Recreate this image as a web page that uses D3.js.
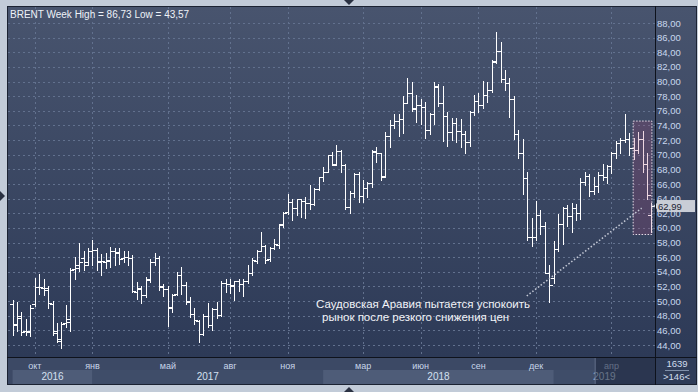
<!DOCTYPE html>
<html><head><meta charset="utf-8">
<script src="https://cdn.jsdelivr.net/npm/d3@7/dist/d3.min.js"></script>
<style>
html,body{margin:0;padding:0;background:#c2cbd8;overflow:hidden;}
svg{display:block;font-family:"Liberation Sans",Arial,sans-serif;}
</style></head><body>
<svg id="c" width="698" height="392"></svg>
<script>
// ---- DATA (weekly Brent bars, Aug 29 2016 .. Jun 3 2019) ----
const opens = [49.6,46.9,47.7,45.9,45.8,49.6,51.9,51.8,51.5,49.6,45.9,44.6,47.0,47.5,54.4,54.9,55.9,55.4,
56.9,57.0,55.4,55.3,55.5,56.8,56.6,55.9,56.0,55.9,51.3,51.6,50.8,53.0,55.3,55.9,51.9,51.7,49.2,51.0,53.6,52.2,
49.9,48.2,47.3,45.5,48.0,46.7,48.9,48.1,52.5,52.4,52.2,52.7,52.3,52.8,53.8,55.5,56.9,57.5,55.7,57.3,57.7,60.5,
62.2,63.5,62.7,63.9,63.7,63.4,63.3,65.3,66.9,67.7,69.9,68.7,70.5,68.6,62.8,64.8,67.3,64.4,65.5,66.2,70.4,70.3,
67.0,72.6,74.1,74.6,74.9,77.1,78.5,76.3,76.8,76.5,73.4,75.6,79.3,77.1,75.3,73.1,74.3,73.2,72.8,71.8,75.8,77.4,
76.8,78.1,78.9,82.8,84.2,80.4,79.8,77.6,72.8,70.2,66.8,58.8,58.7,61.7,60.3,53.8,53.2,57.1,60.5,62.7,61.6,62.7,
62.1,66.3,67.1,65.1,65.7,67.2,67.0,68.4,70.3,71.6,72.0,72.2,70.9,70.6,72.2,68.7,61.8];
const highs = [50.2,49.9,48.5,47.6,49.4,53.2,53.7,53.0,52.0,50.0,47.0,47.2,49.4,54.5,56.0,57.9,56.8,57.2,
58.4,57.3,56.5,56.6,57.4,57.2,57.2,56.9,56.8,56.3,52.6,52.0,53.3,55.7,56.6,56.2,52.4,52.0,51.0,54.0,54.7,52.6,
50.5,49.0,47.4,48.2,49.7,49.0,49.9,52.7,53.0,53.0,52.8,53.0,53.0,54.9,55.9,57.0,59.5,57.7,57.4,58.5,60.5,62.2,
64.7,64.0,64.0,64.0,64.2,65.8,65.5,67.0,68.3,70.0,70.4,71.3,70.6,68.7,65.0,67.5,67.6,66.5,66.3,70.6,71.0,70.3,
73.1,74.7,75.5,75.6,78.0,80.5,80.0,78.2,77.6,77.2,75.7,79.9,79.6,79.4,75.8,75.0,75.0,74.9,73.3,76.0,78.2,78.5,
80.1,79.9,83.0,86.73,85.4,81.6,80.5,78.0,73.4,72.1,67.6,61.3,63.7,62.5,60.8,55.0,58.2,61.9,62.9,63.1,63.4,63.3,
66.8,67.7,67.4,67.0,67.7,68.7,68.6,70.4,71.9,72.3,75.6,73.0,72.3,73.1,73.3,70.2,63.4];
const lows = [45.4,45.9,45.3,45.3,45.2,49.3,51.0,50.8,49.1,45.4,44.4,43.57,46.5,45.9,53.0,54.1,54.2,55.0,
54.9,54.3,53.6,54.5,54.7,54.9,55.1,55.4,55.0,51.2,50.3,49.8,50.5,52.6,55.0,51.5,50.7,46.6,48.5,50.8,51.0,49.6,
47.8,46.9,44.4,45.4,46.4,46.0,47.7,47.9,51.2,51.1,50.2,51.4,50.7,52.5,53.5,55.2,56.8,55.2,55.5,57.1,57.3,60.1,
61.9,61.1,61.8,61.5,61.3,62.6,63.1,65.2,66.4,67.6,68.6,68.6,67.6,62.6,62.1,64.2,63.6,63.6,64.2,65.6,69.0,66.6,
67.0,71.0,73.6,72.6,73.0,77.1,76.0,74.5,74.2,72.3,72.9,74.2,76.7,71.9,71.2,72.0,71.8,71.1,70.3,71.2,75.4,75.9,
76.4,77.2,78.6,82.6,79.9,78.9,75.1,72.2,69.6,64.6,58.4,57.5,58.4,59.1,53.8,49.93,52.5,56.8,57.8,60.2,59.4,61.1,
61.2,65.9,64.3,64.6,64.9,66.6,66.2,67.5,69.5,70.3,71.8,69.9,69.4,70.3,67.7,64.0,59.5];
const closes = [46.8,48.0,45.8,45.9,49.1,51.9,51.95,51.8,49.7,45.6,44.8,46.9,47.2,54.3,54.5,55.3,54.9,56.8,
57.0,55.5,55.5,55.6,56.8,56.7,55.8,56.0,55.9,51.4,51.8,50.8,52.9,55.3,55.9,52.0,51.7,49.1,50.8,53.6,52.2,50.0,
48.2,47.4,45.5,47.9,46.7,48.9,48.1,52.5,52.4,52.1,52.7,52.4,52.75,53.8,55.6,56.9,57.5,55.6,57.2,57.75,60.4,62.1,
63.5,62.7,63.9,63.7,63.4,63.2,65.25,66.9,67.6,69.9,68.6,70.5,68.6,62.8,64.8,67.3,64.4,65.5,66.2,70.45,70.3,67.1,
72.6,74.1,74.6,74.9,77.1,78.5,76.4,76.8,76.5,73.4,75.55,79.4,77.1,75.3,73.1,74.3,73.2,72.8,71.8,75.8,77.4,76.8,
78.1,78.8,82.7,84.2,80.4,79.8,77.6,72.8,70.2,66.8,58.8,58.7,61.7,60.3,53.8,52.2,57.1,60.5,62.7,61.6,62.75,62.1,
66.25,67.1,65.1,65.7,67.2,67.0,68.4,70.3,71.6,72.0,72.2,70.9,70.6,72.2,68.7,64.5,62.99];

const monthTickIdx    = [5,18,35,49,62,79,92,105,118,135];
const monthTickLabels = ["окт","янв","май","авг","ноя","мар","июн","сен","дек","апр"];
const yearStartIdx = [0,18,70,122];
const yearLabels   = ["2016","2017","2018","2019"];
const yTickValues  = d3.range(44, 89, 2);
const titleText = "BRENT Week High = 86,73 Low = 43,57";
const lastPrice = 62.99;
const highlight = {from:140, to:144, top:74.6, bottom:59.1};
const trendFrom = [115.9, 50.7], trendTo = [141.8, 62.7];
const noteLines = ["Саудовская Аравия пытается успокоить", "рынок после резкого снижения цен"];
const barsTotal = "1639", barsVisible = ">146<";
const axisShadeFrom = 131.2;

// ---- LAYOUT ----
const svg = d3.select("#c");
const P = {l:8, r:655, t:7, b:357};
const x = d3.scaleLinear().domain([0, 144]).range([12.6, 651.4]);
const y = d3.scaleLinear().domain([44, 88]).range([345, 23]);
const n = closes.length;

const defs = svg.append("defs");
const g1 = defs.append("linearGradient").attr("id","bg").attr("x1",0).attr("y1",0).attr("x2",0).attr("y2",1);
g1.append("stop").attr("offset","0%").attr("stop-color","#48546e");
g1.append("stop").attr("offset","100%").attr("stop-color","#2d3a57");
defs.append("clipPath").attr("id","clip").append("rect").attr("x",P.l).attr("y",P.t).attr("width",P.r-P.l).attr("height",P.b-P.t);

// outer frame triangles
svg.append("path").attr("d","M344,0 L354,0 L349,5 Z").attr("fill","#2a3142");
svg.append("path").attr("d","M344,392 L354,392 L349,387 Z").attr("fill","#2a3142");
svg.append("path").attr("d","M0,191 L0,201 L5,196 Z").attr("fill","#2a3142");

// panel
svg.append("rect").attr("x",7).attr("y",6).attr("width",690).attr("height",379).attr("fill","#1b2232");
svg.append("rect").attr("x",P.l).attr("y",P.t).attr("width",696-P.l).attr("height",P.b-P.t).attr("fill","url(#bg)");

// bottom axis rows
svg.append("rect").attr("x",P.l).attr("y",358).attr("width",P.r-P.l).attr("height",12).attr("fill","#3c4965");
svg.append("rect").attr("x",P.l).attr("y",370).attr("width",P.r-P.l).attr("height",14).attr("fill","#3c4965");
const bandEnds = yearStartIdx.slice(1).map(i => x(i)).concat([P.r]);
yearStartIdx.forEach((s,k) => {
  const x0 = x(s), x1 = bandEnds[k];
  svg.append("rect").attr("x",x0).attr("y",370).attr("width",x1-x0).attr("height",14)
     .attr("fill", k % 2 === 0 ? "#4e5c78" : "#3f4d69");
  svg.append("text").attr("x",(x0+x1)/2).attr("y",380).attr("text-anchor","middle")
     .attr("font-size","10px").attr("fill","#d4e0f0").text(yearLabels[k]);
});
monthTickIdx.forEach((m,k) => {
  svg.append("text").attr("x",x(m)).attr("y",368.5).attr("text-anchor","middle")
     .attr("font-size","9px").attr("fill","#c8d6ea").text(monthTickLabels[k]);
});
// axis shade at the right
svg.append("rect").attr("x",x(axisShadeFrom)).attr("y",358).attr("width",P.r-x(axisShadeFrom)).attr("height",26)
   .attr("fill","#1e2840").attr("opacity",0.6);
svg.append("line").attr("x1",x(axisShadeFrom)+0.5).attr("x2",x(axisShadeFrom)+0.5).attr("y1",358).attr("y2",384)
   .attr("stroke","#6a7894").attr("stroke-width",1);

// bottom-right box
svg.append("rect").attr("x",656).attr("y",358).attr("width",40).attr("height",26).attr("fill","#2f3c58");
svg.append("text").attr("x",677).attr("y",367).attr("text-anchor","middle").attr("font-size","9.5px").attr("fill","#d0dcee").text(barsTotal);
svg.append("line").attr("x1",665).attr("x2",689).attr("y1",370.5).attr("y2",370.5).attr("stroke","#8090aa");
svg.append("text").attr("x",676.5).attr("y",380).attr("text-anchor","middle").attr("font-size","9.5px").attr("fill","#d0dcee").text(barsVisible);

// gridlines
const grid = svg.append("g").attr("clip-path","url(#clip)");
grid.selectAll("line.h").data(yTickValues).enter().append("line")
  .attr("x1",P.l).attr("x2",P.r).attr("y1",d=>Math.round(y(d))+0.5).attr("y2",d=>Math.round(y(d))+0.5)
  .attr("stroke","#62718e").attr("stroke-dasharray","2,3").attr("stroke-width",1);
grid.selectAll("line.v").data(monthTickIdx).enter().append("line")
  .attr("x1",d=>Math.round(x(d))+0.5).attr("x2",d=>Math.round(x(d))+0.5).attr("y1",P.t).attr("y2",P.b)
  .attr("stroke","#62718e").attr("stroke-dasharray","2,3").attr("stroke-width",1);

// y axis
const yAxis = d3.axisRight(y).tickValues(yTickValues).tickSize(0).tickPadding(2)
  .tickFormat(d => d3.format(".2f")(d).replace(".", ","));
const ya = svg.append("g").attr("transform",`translate(${P.r},0)`).call(yAxis);
ya.select(".domain").remove();
ya.selectAll("text").attr("font-size","9.5px").attr("fill","#c9d8ee").attr("font-family","Liberation Sans, Arial, sans-serif");

// bars
const bars = svg.append("g").attr("clip-path","url(#clip)");
const idx = d3.range(n);
bars.selectAll("path").data(idx).enter().append("path")
  .attr("d", i => {
    const xi = Math.round(x(i)) + 0.5;
    const yo = Math.round(y(opens[i])) + 0.5, yc = Math.round(y(closes[i])) + 0.5;
    return `M${xi},${Math.round(y(highs[i]))}V${Math.round(y(lows[i]))+1}` +
           `M${xi-3.5},${yo}H${xi}M${xi},${yc}H${xi+3.5}`;
  })
  .attr("stroke","#ffffff").attr("stroke-width",1).attr("fill","none").attr("shape-rendering","crispEdges");

// highlight box
const hx0 = x(highlight.from) - 0.5, hx1 = x(highlight.to) + 0.5;
svg.append("rect").attr("x",hx0).attr("y",y(highlight.top)).attr("width",hx1-hx0)
   .attr("height",y(highlight.bottom)-y(highlight.top))
   .attr("fill","rgb(175,70,120)").attr("fill-opacity",0.22)
   .attr("stroke","#e6dce8").attr("stroke-width",1).attr("stroke-dasharray","1.5,1.5");

// dotted trend line
svg.append("line").attr("x1",x(trendFrom[0])).attr("y1",y(trendFrom[1]))
   .attr("x2",x(trendTo[0])).attr("y2",y(trendTo[1]))
   .attr("stroke","#c4c9d6").attr("stroke-width",1.5).attr("stroke-dasharray","1.5,2");

// annotation
svg.append("text").attr("x",316).attr("y",308).attr("font-size","11.5px").attr("fill","#f2f4f8").text(noteLines[0]);
svg.append("text").attr("x",322).attr("y",321).attr("font-size","11.5px").attr("fill","#f2f4f8").text(noteLines[1]);

// title
svg.append("text").attr("x",10).attr("y",18).attr("font-size","10px").attr("fill","#eef2f8").text(titleText);

// last price marker
const yl = y(lastPrice);
svg.append("path").attr("d",`M653,${yl} L657,${yl-3} L657,${yl+3} Z`).attr("fill","#d0d4dc");
svg.append("rect").attr("x",657).attr("y",yl-6).attr("width",38).attr("height",12).attr("fill","#c9cdd6");
svg.append("text").attr("x",658).attr("y",yl+3.5).attr("font-size","9.5px").attr("fill","#1c2333").text(d3.format(".2f")(lastPrice).replace(".", ","));

// frame lines
svg.append("line").attr("x1",P.r+0.5).attr("x2",P.r+0.5).attr("y1",6).attr("y2",385).attr("stroke","#0e121c");
svg.append("line").attr("x1",7).attr("x2",697).attr("y1",P.b+0.5).attr("y2",P.b+0.5).attr("stroke","#0e121c");
</script></body></html>
